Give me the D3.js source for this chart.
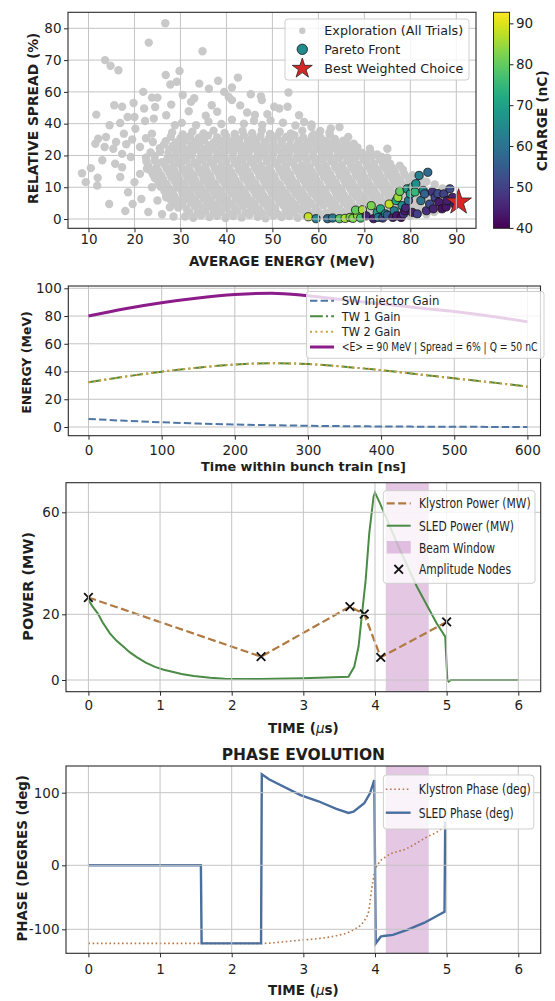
<!DOCTYPE html>
<html>
<head>
<meta charset="utf-8">
<script src="https://cdn.jsdelivr.net/npm/d3@7"></script>
<style>
body { margin: 0; background: #fff; }
text { font-family: "DejaVu Sans", sans-serif; }
</style>
</head>
<body>
<svg id="fig" width="555" height="1001"></svg>
<script>
// ---------- panel 1: optimisation scatter ----------
var energyTicks = [10, 20, 30, 40, 50, 60, 70, 80, 90];
var spreadTicks = [0, 10, 20, 40, 60, 70, 80];
var chargeTicks = [40, 50, 60, 70, 80, 90];
var chargeRange = [39.9, 92.7];

// [average energy MeV, relative spread %]
var exploration = [
[31.0,0.8],[32.8,0.4],[34.5,1.2],[36.3,0.6],[38.0,1.0],[39.8,0.3],[41.5,0.9],[43.3,0.5],[45.0,1.3],[46.8,0.7],[48.5,0.2],[50.2,1.1],[52.0,0.6],[53.7,0.9],[55.5,0.4],[57.2,1.2],[59.0,0.7],[60.7,1.4],[62.5,0.9],[64.2,1.6],[66.0,1.1],[67.7,1.5],[69.5,0.8],[71.2,1.8],[73.0,1.2],[74.7,1.9],[76.5,1.4],[78.2,1.7],[80.0,1.0],[81.7,2.0],[83.5,1.5],[85.2,2.2],
[31.9,2.1],[33.7,1.8],[35.4,2.5],[37.2,1.9],[38.9,2.3],[40.7,1.7],[42.4,2.4],[44.2,2.0],[45.9,2.6],[47.7,1.8],[49.4,2.2],[51.2,1.6],[52.9,2.5],[54.7,2.1],[56.4,2.7],[58.2,1.9],[59.9,2.4],[61.7,2.0],[63.4,2.8],[65.2,2.2],[66.9,2.9],[68.7,2.4],[70.4,3.0],[72.2,2.5],[73.9,3.1],[75.7,2.6],[77.4,3.2],[79.2,2.8],[80.9,3.3],[82.7,2.9],[84.4,3.5],[86.2,3.1],
[29.5,3.6],[31.3,3.2],[33.1,4.0],[34.8,3.4],[36.6,3.9],[38.4,3.1],[40.1,3.7],[41.9,3.3],[43.6,4.1],[45.4,3.5],[47.1,3.0],[48.9,3.8],[50.6,3.4],[52.4,4.2],[54.1,3.6],[55.9,3.1],[57.6,3.9],[59.4,3.5],[61.1,4.3],[62.9,3.7],[64.6,3.2],[66.4,4.0],[68.1,3.6],[69.9,4.4],[71.6,3.8],[73.4,4.5],[75.1,4.0],[76.9,4.6],[78.6,4.1],[80.4,4.8],[82.1,4.3],[83.9,5.1],[85.6,4.6],[87.3,5.4],
[28.6,5.0],[30.4,4.6],[32.2,5.3],[33.9,4.7],[35.7,5.1],[37.5,4.5],[39.2,5.2],[41.0,4.8],[42.7,5.5],[44.5,4.9],[46.2,4.4],[48.0,5.1],[49.7,4.7],[51.5,5.4],[53.2,4.9],[55.0,4.5],[56.7,5.2],[58.5,4.8],[60.2,5.6],[62.0,5.0],[63.7,4.6],[65.5,5.3],[67.2,4.9],[69.0,5.7],[70.7,5.1],[72.5,5.8],[74.2,5.3],[76.0,6.0],[77.7,5.5],[79.5,6.1],[81.2,5.7],[83.0,6.4],[84.7,5.9],[86.5,6.6],[88.2,6.2],
[27.8,6.2],[29.6,5.8],[31.4,6.6],[33.2,6.0],[35.0,6.5],[36.7,5.7],[38.5,6.3],[40.2,5.9],[42.0,6.7],[43.7,6.1],[45.5,5.6],[47.2,6.4],[49.0,6.0],[50.7,6.8],[52.5,6.2],[54.2,5.7],[56.0,6.5],[57.7,6.1],[59.5,6.9],[61.2,6.3],[63.0,5.8],[64.7,6.6],[66.5,6.2],[68.2,7.0],[70.0,6.4],[71.7,7.1],[73.5,6.6],[75.2,7.3],[77.0,6.8],[78.7,7.4],[80.5,7.0],[82.2,7.7],[84.0,7.2],[85.8,8.0],[87.6,7.5],
[26.9,7.6],[28.7,7.2],[30.5,7.9],[32.3,7.3],[34.1,7.8],[35.9,7.0],[37.6,7.6],[39.4,7.2],[41.1,8.0],[42.9,7.4],[44.6,6.9],[46.4,7.7],[48.1,7.3],[49.9,8.1],[51.6,7.5],[53.4,7.0],[55.1,7.8],[56.9,7.4],[58.6,8.2],[60.4,7.6],[62.1,7.1],[63.9,7.9],[65.6,7.5],[67.4,8.3],[69.1,7.7],[70.9,8.4],[72.6,7.9],[74.4,8.6],[76.1,8.1],[77.9,8.7],[79.6,8.3],[81.4,9.0],[83.1,8.5],[84.9,9.2],[86.7,8.7],
[26.5,8.8],[28.3,8.4],[30.1,9.2],[31.9,8.6],[33.6,9.1],[35.4,8.3],[37.1,8.9],[38.9,8.5],[40.6,9.3],[42.4,8.7],[44.1,8.2],[45.9,9.0],[47.6,8.6],[49.4,9.4],[51.1,8.8],[52.9,8.3],[54.6,9.1],[56.4,8.7],[58.1,9.5],[59.9,8.9],[61.6,8.4],[63.4,9.2],[65.1,8.8],[66.9,9.6],[68.6,9.0],[70.4,9.7],[72.1,9.2],[73.9,9.9],[75.6,9.4],[77.4,10.0],[79.1,9.6],[80.9,10.3],[82.6,9.8],
[25.7,10.1],[27.5,9.7],[29.3,10.5],[31.0,9.9],[32.8,10.4],[34.5,9.6],[36.3,10.2],[38.0,9.8],[39.8,10.6],[41.5,10.0],[43.3,9.5],[45.0,10.3],[46.8,9.9],[48.5,10.7],[50.3,10.1],[52.0,9.6],[53.8,10.4],[55.5,10.0],[57.3,10.8],[59.0,10.2],[60.8,9.7],[62.5,10.5],[64.3,10.1],[66.0,10.9],[67.8,10.3],[69.5,11.0],[71.3,10.5],[73.0,11.2],[74.8,10.7],[76.5,11.3],[78.3,10.9],[80.0,11.5],[81.8,11.1],[83.5,11.7],[85.3,10.9],[87.0,9.6],
[25.2,11.4],[27.0,11.0],[28.8,11.8],[30.6,11.2],[32.3,11.7],[34.1,10.9],[35.8,11.5],[37.6,11.1],[39.3,11.9],[41.1,11.3],[42.8,10.8],[44.6,11.6],[46.3,11.2],[48.1,12.0],[49.8,11.4],[51.6,10.9],[53.3,11.7],[55.1,11.3],[56.8,12.1],[58.6,11.5],[60.3,11.0],[62.1,11.8],[63.8,11.4],[65.6,12.2],[67.3,11.6],[69.1,12.3],[70.8,11.8],[72.6,12.5],[74.3,12.0],[76.1,12.6],[77.8,12.2],[79.6,12.8],
[24.4,12.9],[26.2,12.5],[28.0,13.2],[29.7,12.6],[31.5,13.1],[33.2,12.3],[35.0,12.9],[36.7,12.5],[38.5,13.3],[40.2,12.7],[42.0,12.2],[43.7,13.0],[45.5,12.6],[47.2,13.4],[49.0,12.8],[50.7,12.3],[52.5,13.1],[54.2,12.7],[56.0,13.5],[57.7,12.9],[59.5,12.4],[61.2,13.2],[63.0,12.8],[64.7,13.6],[66.5,13.0],[68.2,13.7],[70.0,13.2],[71.7,13.9],[73.5,13.4],[75.2,14.0],[77.0,13.6],[78.7,14.2],[80.5,13.8],[82.2,12.9],
[24.0,14.1],[25.8,13.7],[27.6,14.5],[29.4,13.9],[31.1,14.4],[32.9,13.6],[34.6,14.2],[36.4,13.8],[38.1,14.6],[39.9,14.0],[41.6,13.5],[43.4,14.3],[45.1,13.9],[46.9,14.7],[48.6,14.1],[50.4,13.6],[52.1,14.4],[53.9,14.0],[55.6,14.8],[57.4,14.2],[59.1,13.7],[60.9,14.5],[62.6,14.1],[64.4,14.9],[66.1,14.3],[67.9,15.0],[69.6,14.5],[71.4,15.2],[73.1,14.7],[74.9,15.3],[76.6,14.9],[78.4,15.5],
[23.4,15.4],[25.2,15.0],[27.0,15.8],[28.7,15.2],[30.5,15.7],[32.2,14.9],[34.0,15.5],[35.7,15.1],[37.5,15.9],[39.2,15.3],[41.0,14.8],[42.7,15.6],[44.5,15.2],[46.2,16.0],[48.0,15.4],[49.7,14.9],[51.5,15.7],[53.2,15.3],[55.0,16.1],[56.7,15.5],[58.5,15.0],[60.2,15.8],[62.0,15.4],[63.7,16.2],[65.5,15.6],[67.2,16.3],[69.0,15.8],[70.7,16.5],[72.5,16.0],[74.2,16.6],[76.0,16.2],[77.7,16.8],
[23.0,16.8],[24.8,16.3],[26.6,17.1],[28.4,16.5],[30.1,17.0],[31.9,16.2],[33.6,16.9],[35.4,16.4],[37.1,17.2],[38.9,16.6],[40.6,16.1],[42.4,16.9],[44.1,16.5],[45.9,17.3],[47.6,16.7],[49.4,16.2],[51.1,17.0],[52.9,16.6],[54.6,17.4],[56.4,16.8],[58.1,16.3],[59.9,17.1],[61.6,16.7],[63.4,17.5],[65.1,16.9],[66.9,17.6],[68.6,17.1],[70.4,17.8],[72.1,17.3],[73.9,17.9],[75.6,17.4],
[22.6,18.1],[24.4,18.5],[26.0,17.9],[27.8,18.6],[29.5,18.0],[31.3,18.4],[33.0,17.8],[34.8,18.5],[36.5,18.1],[38.3,18.8],[40.0,18.2],[41.8,17.7],[43.5,18.5],[45.3,18.1],[47.0,18.9],[48.8,18.3],[50.5,17.8],[52.3,18.6],[54.0,18.2],[55.8,19.0],[57.5,18.4],[59.3,17.9],[61.0,18.7],[62.8,18.3],[64.5,19.1],[66.3,18.5],[68.0,19.2],[69.8,18.7],[71.5,19.4],[73.3,18.9],[75.0,19.3],
[22.5,19.3],[24.4,19.8],[27.2,19.1],[29.0,19.9],[30.8,19.4],[32.5,20.0],[34.3,19.2],[36.0,19.8],[37.8,19.4],[39.5,20.1],[41.3,19.5],[43.0,19.0],[44.8,19.8],[46.5,19.4],[48.3,20.2],[50.0,19.6],[51.8,19.1],[53.5,19.9],[55.3,19.5],[57.0,20.3],[58.8,19.7],[60.5,19.2],[62.3,20.0],[64.0,19.6],[65.8,20.4],[67.5,19.8],[69.3,20.5],[71.0,19.9],[72.8,20.6],
[23.5,21.9],[25.6,22.4],[27.4,21.5],[29.2,22.6],[31.0,21.8],[32.8,22.8],[34.5,21.6],[36.3,22.5],[38.0,21.9],[39.8,22.9],[41.5,22.0],[43.3,21.4],[45.0,22.7],[46.8,21.9],[48.5,23.0],[50.3,22.2],[52.0,21.5],[53.8,22.6],[55.5,22.0],[57.3,23.1],[59.0,22.3],[60.8,21.7],[62.5,22.8],[64.3,22.1],[66.0,23.2],[67.8,22.4],[69.5,21.6],[71.3,22.5],
[25.5,24.5],[27.6,23.8],[29.8,24.8],[31.5,23.5],[33.4,24.6],[35.2,23.9],[37.0,25.0],[38.8,24.2],[40.5,23.6],[42.3,24.9],[44.0,24.1],[45.8,25.2],[47.5,24.4],[49.3,23.7],[51.0,24.7],[52.8,24.0],[54.5,25.1],[56.3,24.3],[58.0,23.8],[59.8,24.9],[61.5,24.2],[63.3,25.3],[65.0,24.5],[66.8,23.9],[68.5,25.0],
[26.4,26.8],[28.3,26.0],[30.5,27.2],[32.4,26.2],[34.2,27.4],[36.1,26.5],[37.9,27.7],[39.7,26.1],[41.5,27.0],[43.2,26.4],[45.0,27.5],[46.7,26.3],[48.5,27.3],[50.2,26.6],[52.0,27.8],[53.7,26.2],[55.5,27.1],[57.2,26.5],[59.0,27.6],[60.7,26.4],[62.5,27.3],[64.2,26.7],[66.0,27.9],[67.6,26.3],
[26.8,29.0],[29.0,28.2],[31.2,29.5],[33.0,28.6],[35.1,29.8],[37.3,28.4],[39.1,29.3],[41.0,28.7],[42.8,30.0],[44.7,28.9],[46.5,29.6],[48.3,28.3],[50.2,29.4],[52.0,28.8],[53.9,30.1],[55.7,29.0],[57.8,28.5],[59.6,29.7],[61.5,28.9],[63.6,30.3],[65.4,29.2],
[27.9,31.8],[30.0,31.0],[32.1,32.3],[34.0,31.2],[36.0,32.5],[38.0,31.4],[40.0,32.0],[41.9,31.1],[43.8,32.6],[45.6,31.5],[47.4,32.2],[49.3,31.0],[51.1,32.4],[53.0,31.6],[54.8,32.8],[56.7,31.3],[58.6,32.0],[60.5,31.2],[62.5,32.5],
[28.2,34.5],[30.5,33.2],[32.6,35.0],[35.0,33.8],[37.2,35.6],[39.6,34.1],[41.8,33.5],[43.5,35.3],[45.6,34.0],[47.7,35.8],[49.5,33.6],[51.6,34.9],[54.0,33.9],[56.5,35.5],[59.0,33.2],[62.4,34.4],
[30.3,40.5],[33.4,39.0],[36.1,41.2],[38.9,39.8],[41.2,42.5],[43.8,40.0],[46.0,41.8],[47.8,39.2],[49.6,42.0],[52.3,40.6],[55.0,38.8],[58.5,39.5],
[26.7,81.6],[23.1,75.5],[34.8,72.8],[13.6,70.0],[14.8,68.2],[16.5,66.8],[29.8,66.6],[26.8,65.3],[29.2,63.2],[27.8,62.3],[34.1,62.6],[36.2,61.0],[41.2,61.4],[39.5,60.0],[21.9,60.0],[53.5,59.6],[47.5,57.2],[23.8,56.4],[25.0,56.4],[40.5,56.8],
[15.6,51.6],[17.3,50.6],[32.3,53.7],[36.8,51.6],[41.2,54.8],[47.7,54.8],[50.4,50.6],[51.5,49.5],[53.3,50.6],[18.5,44.2],[22.1,49.5],[11.7,45.7],[14.6,39.0],[16.9,40.4],[20.0,44.2],[22.3,41.7],[24.2,43.2],[26.9,45.3],[28.8,39.0],[23.8,33.7],
[20.2,36.8],[17.7,33.7],[13.8,31.6],[12.1,30.5],[11.5,27.4],[13.5,25.3],[15.4,24.2],[17.3,21.0],[19.2,19.5],[21.2,25.3],[8.6,14.4],[9.4,11.6],[11.9,10.5],[14.5,4.7],[15.8,17.4],[17.3,16.3],[16.9,13.2],[18.6,8.4],[19.6,4.7],[20.0,11.6],
[21.2,14.2],[21.5,6.3],[22.7,15.8],[23.8,10.0],[25.0,5.8],[25.8,13.2],[26.9,6.8],[27.7,3.7],[29.2,10.0],[30.4,5.3],[55.8,45.3],[56.9,41.0],[58.5,37.9],[60.4,35.4],[62.7,37.0],[64.6,37.9],[66.5,31.6],[67.7,27.4],[71.2,24.2],[73.8,19.5],
[75.0,24.2],[44.5,47.0],[46.2,45.5],[38.0,47.5],[35.5,45.0],[31.8,47.8],[43.0,51.5],[48.9,46.0],[28.0,52.0],[19.8,53.0],[24.5,50.5],[30.5,58.0],[33.0,56.0],[45.3,58.5],[38.2,63.5],[42.5,64.5],[18.2,27.0],[19.5,30.0],[16.0,28.5],[24.0,28.5],
[22.5,30.8],[13.0,18.5],[12.0,13.0],[10.5,16.0],[18.0,2.5],[23.0,2.2],[26.0,1.5],[28.5,0.8]
];

// [average energy MeV, relative spread %, charge nC]
var pareto = [
[57.8,0.7,88],[59.5,0.1,64],[62.0,0.1,58],[63.1,0.3,61],[64.6,0.1,79],[65.8,0.2,86],[66.9,0.5,82],[67.5,0.2,83],[68.5,1.2,84],[68.1,2.8,80],
[69.6,2.9,86],[69.2,0.3,77],[70.4,1.0,45],[71.5,4.2,82],[72.0,0.1,44],[72.8,2.0,70],[73.0,0.5,60],[73.5,3.2,72],[74.0,0.3,50],[74.6,1.6,62],
[75.0,1.2,55],[75.4,4.7,88],[76.2,0.5,45],[76.5,2.6,62],[76.9,5.8,72],[77.0,1.0,43],[77.3,6.8,85],[77.7,8.7,80],[78.0,0.5,42],[78.2,4.2,66],
[78.5,1.6,48],[78.8,2.6,44],[79.0,3.5,46],[79.3,9.5,68],[79.6,5.8,60],[80.0,7.9,70],[80.4,10.0,73],[81.0,8.5,75],[81.2,11.1,66],[81.9,13.7,62],
[80.4,2.1,45],[81.5,1.6,50],[82.3,5.8,60],[82.8,9.0,64],[83.1,7.9,56],[83.8,14.7,58],[83.5,2.6,47],[84.2,4.7,52],[84.8,8.5,48],[85.0,3.2,45],
[85.4,6.8,50],[86.0,8.0,52],[86.2,5.3,44],[86.9,3.2,42],[87.3,7.9,50],[87.8,3.8,43],[88.0,5.8,44],[88.6,9.5,52],[89.2,6.8,45],[89.6,4.7,44]
];
var bestChoice = [90.5, 5.3];

// ---------- panel 2: energy gain along the bunch train ----------
var trainTime = [0, 50, 100, 150, 200, 250, 300, 350, 400, 450, 500, 550, 600];
var swInjectorGain = [5.8, 4.5, 3.4, 2.5, 1.8, 1.3, 0.9, 0.6, 0.4, 0.25, 0.15, 0.08, 0.03];
var tw1Gain = [32.2, 36.3, 39.9, 42.8, 45.0, 46.0, 45.4, 43.4, 41.0, 38.0, 35.1, 32.2, 29.1];
var tw2Gain = [32.2, 36.3, 39.9, 42.8, 45.0, 46.0, 45.4, 43.4, 41.0, 38.0, 35.1, 32.2, 29.1];
var meanEnergy = [80.0, 85.3, 89.6, 93.0, 95.5, 96.5, 94.6, 91.6, 88.8, 86.0, 83.2, 79.8, 75.8];
var trainTicks = [0, 100, 200, 300, 400, 500, 600];
var gainTicks = [0, 20, 40, 60, 80, 100];

// ---------- panel 3: RF power ----------
var nodeTime = [0, 2.41, 3.65, 3.85, 4.08, 5.0];
var nodePower = [26.6, 7.1, 23.0, 20.1, 6.9, 17.7];
var sledTime = [0, 0.06, 0.13, 0.2, 0.3, 0.39, 0.49, 0.58, 0.68, 0.8, 0.93, 1.05, 1.17, 1.3, 1.47, 1.7, 1.9, 2.4, 3.0, 3.63, 3.71, 3.77, 3.81, 3.87, 3.92, 3.98, 4.0, 4.07, 4.35, 4.58, 4.86, 4.98, 5.01, 5.03, 5.06, 6.0];
var sledPower = [25.6, 23.0, 20.4, 17.5, 14.2, 12.0, 10.1, 8.4, 6.9, 5.3, 4.0, 3.1, 2.5, 1.8, 1.2, 0.7, 0.4, 0.3, 0.5, 1.0, 4.0, 10.1, 18.3, 33.5, 51.8, 66.1, 67.7, 63.5, 45.2, 31.1, 17.3, 13.2, 0, -0.5, 0, 0];
var beamWindow = [4.15, 4.75];
var timeTicks = [0, 1, 2, 3, 4, 5, 6];
var powerTicks = [0, 20, 60];

// ---------- panel 4: phase ----------
var klyPhaseTime = [0, 2.43, 2.73, 2.96, 3.21, 3.46, 3.68, 3.84, 3.91, 3.95, 4.0, 4.05, 4.15, 4.45, 4.69, 4.97, 5.0];
var klyPhase = [-122, -122, -119.5, -117, -114.5, -110, -102, -88, -72.5, -40, -8, 2.8, 11.8, 23.4, 37.2, 55.5, 60];
var sledPhaseTime = [0, 1.57, 1.58, 2.41, 2.42, 2.52, 2.96, 3.21, 3.46, 3.63, 3.70, 3.85, 3.93, 3.99, 4.01, 4.08, 4.12, 4.25, 4.45, 4.69, 4.97, 4.98];
var sledPhase = [0, 0, -122, -122, 125.3, 118.5, 96.8, 88.2, 77.7, 72.2, 73.8, 85.4, 99.2, 117.5, -122, -111.5, -110.4, -108.8, -101, -89.7, -72.5, 60];
var phaseTicks = [-100, 0, 100];

// ---------- layout ----------
var box1 = {l: 68, r: 476, t: 12.3, b: 228.3};
var box2 = {l: 68.3, r: 540.5, t: 286, b: 435.7};
var box3 = {l: 66, r: 540.7, t: 482.7, b: 691.7};
var box4 = {l: 66, r: 540.7, t: 766, b: 953.3};
var gridColor = "#c4c4c4";
var ink = "#1e1e1e";

var svg = d3.select("#fig");
svg.append("rect").attr("width", 555).attr("height", 1001).attr("fill", "#fff");
var defs = svg.append("defs");

function clip(id, b) {
    defs.append("clipPath").attr("id", id).append("rect")
        .attr("x", b.l).attr("y", b.t).attr("width", b.r - b.l).attr("height", b.b - b.t);
    return "url(#" + id + ")";
}

function grid(g, b, x, y, xt, yt) {
    var gg = g.append("g").attr("stroke", gridColor).attr("stroke-width", 1);
    gg.selectAll(".gx").data(xt).enter().append("line")
        .attr("x1", x).attr("x2", x).attr("y1", b.t).attr("y2", b.b);
    gg.selectAll(".gy").data(yt).enter().append("line")
        .attr("x1", b.l).attr("x2", b.r).attr("y1", y).attr("y2", y);
}

function frame(g, b) {
    g.append("rect").attr("x", b.l).attr("y", b.t).attr("width", b.r - b.l).attr("height", b.b - b.t)
        .attr("fill", "none").attr("stroke", "#2a2a2a").attr("stroke-width", 1.1);
}

function axes(g, b, x, y, xt, yt, xpad) {
    var ax = g.append("g").attr("transform", "translate(0," + b.b + ")")
        .call(d3.axisBottom(x).tickValues(xt).tickSize(4).tickPadding(xpad).tickFormat(function (d) { return String(d); }));
    var ay = g.append("g").attr("transform", "translate(" + b.l + ",0)")
        .call(d3.axisLeft(y).tickValues(yt).tickSize(4).tickPadding(2.5).tickFormat(function (d) { return String(d); }));
    [ax, ay].forEach(function (a) {
        a.select(".domain").remove();
        a.attr("font-size", 13.5).attr("font-family", null).attr("color", ink);
        a.selectAll("line").attr("stroke", "#2a2a2a").attr("stroke-width", 1);
    });
}

function label(g, str, x, y, size, rotate) {
    var t = g.append("text").attr("text-anchor", "middle").attr("font-weight", "bold")
        .attr("font-size", size).attr("fill", ink).text(str);
    if (rotate) t.attr("transform", "translate(" + x + "," + y + ") rotate(-90)").attr("dy", "0.36em");
    else t.attr("x", x).attr("y", y);
    return t;
}

function timeLabel(g, x, y) {
    var t = g.append("text").attr("x", x).attr("y", y).attr("text-anchor", "middle")
        .attr("font-weight", "bold").attr("font-size", 13.5).attr("fill", ink);
    t.append("tspan").text("TIME (");
    t.append("tspan").attr("font-style", "italic").attr("font-weight", "normal").text("\u03bc");
    t.append("tspan").text("s)");
}

function legendBox(g, x0, y0, x1, y1) {
    g.append("rect").attr("x", x0).attr("y", y0).attr("width", x1 - x0).attr("height", y1 - y0).attr("rx", 3)
        .attr("fill", "#fff").attr("fill-opacity", 0.8).attr("stroke", "#cfcfcf").attr("stroke-width", 1);
}

// legend label: glyph height of `size`, squeezed to width `len`
function legendText(g, x, y, str, size, len) {
    var t = g.append("text").attr("font-size", size).attr("fill", ink).text(str);
    var k = len / t.node().getComputedTextLength();
    t.attr("font-size", size * k).attr("dy", "0.36em")
        .attr("transform", "translate(" + x + "," + y + ") scale(1," + (1 / k) + ")");
}

// ================= panel 1 =================
var x1 = d3.scaleLinear().domain([10, 90]).range([88.5, 456.3]);
var y1 = d3.scaleLinear().domain(spreadTicks).range(spreadTicks.map(function (d, i) { return 219 - i * 31.78; }));
var col = d3.scaleSequential(d3.interpolateViridis).domain(chargeRange);
var g1 = svg.append("g");
var p1 = g1.append("g").attr("clip-path", clip("c1", box1));

p1.selectAll(".expl").data(exploration).enter().append("circle")
    .attr("cx", function (d) { return x1(d[0]); })
    .attr("cy", function (d) { return y1(d[1]); })
    .attr("r", 4.2).attr("fill", "#c9c9c9");

grid(g1, box1, x1, y1, energyTicks, spreadTicks);

p1.selectAll(".par").data(pareto).enter().append("circle")
    .attr("cx", function (d) { return x1(d[0]); })
    .attr("cy", function (d) { return y1(d[1]); })
    .attr("r", 4.1).attr("fill", function (d) { return col(d[2]); })
    .attr("stroke", "#111").attr("stroke-width", 0.8);

var starSym = function (R) { return d3.symbol().type(d3.symbolStar).size(R * R / 0.8908130915)(); };
p1.append("path").attr("d", starSym(13.5))
    .attr("transform", "translate(" + x1(bestChoice[0]) + "," + y1(bestChoice[1]) + ")")
    .attr("fill", "#d62728").attr("stroke", "#222").attr("stroke-width", 0.8);

frame(g1, box1);
axes(g1, box1, x1, y1, energyTicks, spreadTicks, 2);
label(g1, "AVERAGE ENERGY (MeV)", 282, 266, 13.5, false);
label(g1, "RELATIVE SPREAD (%)", 33, 118.3, 13.8, true);

// legend 1
legendBox(g1, 285, 19, 469, 80);
g1.append("circle").attr("cx", 302.3).attr("cy", 30.7).attr("r", 3.2).attr("fill", "#c9c9c9");
g1.append("circle").attr("cx", 302.3).attr("cy", 49.3).attr("r", 5.2).attr("fill", col(65))
    .attr("stroke", "#111").attr("stroke-width", 0.8);
g1.append("path").attr("d", starSym(10.5)).attr("transform", "translate(302.3,68.6)")
    .attr("fill", "#d62728").attr("stroke", "#222").attr("stroke-width", 0.8);
legendText(g1, 324.3, 30.7, "Exploration (All Trials)", 12.5, 139);
legendText(g1, 324.3, 49.3, "Pareto Front", 12.5, 76);
legendText(g1, 324.3, 68.3, "Best Weighted Choice", 12.5, 139);

// colorbar
var cy = d3.scaleLinear().domain(chargeRange).range([228.3, 12.3]);
var grad = defs.append("linearGradient").attr("id", "viridis")
    .attr("x1", 0).attr("x2", 0).attr("y1", 1).attr("y2", 0);
d3.range(0, 1.0001, 0.05).forEach(function (t) {
    grad.append("stop").attr("offset", t).attr("stop-color", d3.interpolateViridis(t));
});
g1.append("rect").attr("x", 493.5).attr("y", 12.3).attr("width", 16).attr("height", 216)
    .attr("fill", "url(#viridis)").attr("stroke", "#2a2a2a").attr("stroke-width", 1);
var cax = g1.append("g").attr("transform", "translate(509.5,0)")
    .call(d3.axisRight(cy).tickValues(chargeTicks).tickSize(4).tickPadding(2.5));
cax.select(".domain").remove();
cax.attr("font-size", 13.5).attr("font-family", null).attr("color", ink);
label(g1, "CHARGE (nC)", 541.7, 120.8, 13.8, true);

// ================= panel 2 =================
var x2 = d3.scaleLinear().domain([0, 600]).range([88.5, 527.4]);
var y2 = d3.scaleLinear().domain([0, 100]).range([427, 288.3]);
var g2 = svg.append("g");
grid(g2, box2, x2, y2, trainTicks, gainTicks);
var p2 = g2.append("g").attr("clip-path", clip("c2", box2));

function series(vals) { return trainTime.map(function (t, i) { return [t, vals[i]]; }); }
var line2 = d3.line().x(function (d) { return x2(d[0]); }).y(function (d) { return y2(d[1]); }).curve(d3.curveMonotoneX);

p2.append("path").attr("d", line2(series(swInjectorGain))).attr("fill", "none")
    .attr("stroke", "#4f77a6").attr("stroke-width", 2).attr("stroke-dasharray", "7.4,3.2");
p2.append("path").attr("d", line2(series(tw1Gain))).attr("fill", "none")
    .attr("stroke", "#4b8a3c").attr("stroke-width", 2).attr("stroke-dasharray", "12.8,3.2,2,3.2");
p2.append("path").attr("d", line2(series(tw2Gain))).attr("fill", "none")
    .attr("stroke", "#d1a03a").attr("stroke-width", 2).attr("stroke-dasharray", "2,3.3");
p2.append("path").attr("d", line2(series(meanEnergy))).attr("fill", "none")
    .attr("stroke", "#8c1c8a").attr("stroke-width", 3);

frame(g2, box2);
axes(g2, box2, x2, y2, trainTicks, gainTicks, 6);
label(g2, "Time within bunch train [ns]", 303.5, 471, 12.8, false);
label(g2, "ENERGY (MeV)", 26.7, 362.5, 12.5, true);

legendBox(g2, 306.5, 291.5, 544, 358.3);
var leg2 = [
    {y: 300.7, c: "#4f77a6", dash: "7.4,3.2", w: 2, t: "SW Injector Gain", len: 97.7},
    {y: 316.2, c: "#4b8a3c", dash: "12.8,3.2,2,3.2", w: 2, t: "TW 1 Gain", len: 59},
    {y: 331.7, c: "#d1a03a", dash: "2,3.3", w: 2, t: "TW 2 Gain", len: 59},
    {y: 347.0, c: "#8c1c8a", dash: null, w: 3, t: "<E> = 90 MeV | Spread = 6% | Q = 50 nC", len: 196}
];
leg2.forEach(function (d) {
    g2.append("line").attr("x1", 310).attr("x2", 334).attr("y1", d.y).attr("y2", d.y)
        .attr("stroke", d.c).attr("stroke-width", d.w).attr("stroke-dasharray", d.dash);
    legendText(g2, 341.7, d.y, d.t, 12, d.len);
});

// ================= panel 3 =================
var xT = d3.scaleLinear().domain([0, 6]).range([88.4, 518.3]);
var y3 = d3.scaleLinear().domain(powerTicks).range([680, 614.3, 512.3]);
var g3 = svg.append("g");
var p3 = g3.append("g").attr("clip-path", clip("c3", box3));
p3.append("rect").attr("x", xT(beamWindow[0])).attr("width", xT(beamWindow[1]) - xT(beamWindow[0]))
    .attr("y", box3.t).attr("height", box3.b - box3.t).attr("fill", "purple").attr("fill-opacity", 0.22);
grid(g3, box3, xT, y3, timeTicks, powerTicks);

var klyPts = nodeTime.map(function (t, i) { return [t, nodePower[i]]; });
var sledPts = sledTime.map(function (t, i) { return [t, sledPower[i]]; });
var line3 = d3.line().x(function (d) { return xT(d[0]); }).y(function (d) { return y3(d[1]); });

p3.append("path").attr("d", line3(klyPts)).attr("fill", "none")
    .attr("stroke", "#b07a42").attr("stroke-width", 2.2).attr("stroke-dasharray", "8,3.5");
p3.append("path").attr("d", line3(sledPts)).attr("fill", "none")
    .attr("stroke", "#4a8b45").attr("stroke-width", 2);
var xSym = d3.symbol().type(d3.symbolTimes).size(50)();
p3.selectAll(".node").data(klyPts).enter().append("path").attr("d", xSym)
    .attr("transform", function (d) { return "translate(" + xT(d[0]) + "," + y3(d[1]) + ")"; })
    .attr("fill", "none").attr("stroke", "#111").attr("stroke-width", 1.8);

frame(g3, box3);
axes(g3, box3, xT, y3, timeTicks, powerTicks, 5);
timeLabel(g3, 303.4, 733);
label(g3, "POWER (MW)", 27.3, 586.3, 14.5, true);

legendBox(g3, 383.3, 490.7, 535, 583.3);
g3.append("line").attr("x1", 386.7).attr("x2", 410.7).attr("y1", 503.3).attr("y2", 503.3)
    .attr("stroke", "#b07a42").attr("stroke-width", 2.2).attr("stroke-dasharray", "8,3.5");
g3.append("line").attr("x1", 386.7).attr("x2", 410.7).attr("y1", 525.7).attr("y2", 525.7)
    .attr("stroke", "#4a8b45").attr("stroke-width", 2);
g3.append("rect").attr("x", 386.7).attr("y", 541).attr("width", 24).attr("height", 12.5)
    .attr("fill", "purple").attr("fill-opacity", 0.22);
g3.append("path").attr("d", xSym).attr("transform", "translate(398.7,569.3)")
    .attr("fill", "none").attr("stroke", "#111").attr("stroke-width", 1.8);
legendText(g3, 419, 503.3, "Klystron Power (MW)", 14, 111.7);
legendText(g3, 419, 525.7, "SLED Power (MW)", 14, 95);
legendText(g3, 419, 547.7, "Beam Window", 14, 76);
legendText(g3, 419, 569.3, "Amplitude Nodes", 14, 92);

// ================= panel 4 =================
var y4 = d3.scaleLinear().domain(phaseTicks).range([929.3, 865.3, 792.7]);
var g4 = svg.append("g");
var p4 = g4.append("g").attr("clip-path", clip("c4", box4));
p4.append("rect").attr("x", xT(beamWindow[0])).attr("width", xT(beamWindow[1]) - xT(beamWindow[0]))
    .attr("y", box4.t).attr("height", box4.b - box4.t).attr("fill", "purple").attr("fill-opacity", 0.22);
grid(g4, box4, xT, y4, timeTicks, phaseTicks);

var line4 = d3.line().x(function (d) { return xT(d[0]); }).y(function (d) { return y4(d[1]); });
p4.append("path").attr("d", line4.curve(d3.curveMonotoneX)(klyPhaseTime.map(function (t, i) { return [t, klyPhase[i]]; })))
    .attr("fill", "none").attr("stroke", "#b8794a").attr("stroke-width", 1.6).attr("stroke-dasharray", "1.6,2.6");
p4.append("path").attr("d", line4.curve(d3.curveLinear)(sledPhaseTime.map(function (t, i) { return [t, sledPhase[i]]; })))
    .attr("fill", "none").attr("stroke", "#4a6e9e").attr("stroke-width", 2.4);

frame(g4, box4);
axes(g4, box4, xT, y4, timeTicks, phaseTicks, 7);
timeLabel(g4, 303.4, 995);
label(g4, "PHASE (DEGRES (deg)", 21.7, 858.3, 13.4, true);
label(g4, "PHASE EVOLUTION", 303.4, 759.5, 15.5, false);

legendBox(g4, 383.4, 775, 533.8, 829);
g4.append("line").attr("x1", 385.8).attr("x2", 410.6).attr("y1", 789.3).attr("y2", 789.3)
    .attr("stroke", "#b8794a").attr("stroke-width", 1.6).attr("stroke-dasharray", "1.6,2.6");
g4.append("line").attr("x1", 385.8).attr("x2", 410.6).attr("y1", 812.7).attr("y2", 812.7)
    .attr("stroke", "#4a6e9e").attr("stroke-width", 2.4);
legendText(g4, 418.8, 789.3, "Klystron Phase (deg)", 14, 112);
legendText(g4, 418.8, 812.7, "SLED Phase (deg)", 14, 95);
</script>
</body>
</html>
